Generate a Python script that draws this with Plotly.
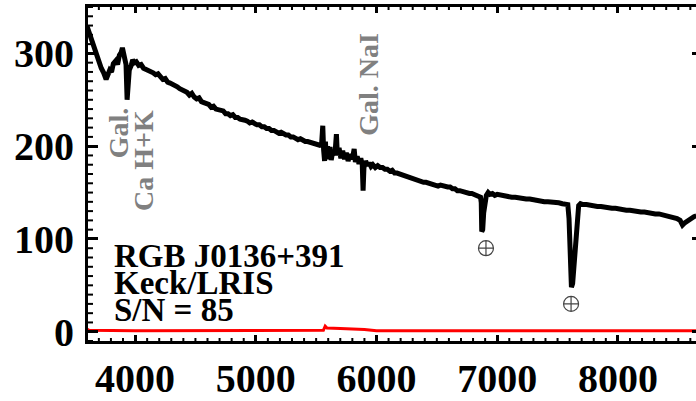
import plotly.graph_objects as go

# Observed-frame spectrum of RGB J0136+391 (Keck/LRIS): (wavelength [A], flux)
spec_points = [
    (3600, 330), (3620, 322), (3640, 316), (3660, 306), (3680, 300), (3700, 291),
    (3720, 284), (3740, 279), (3760, 272), (3775, 277), (3790, 282), (3805, 280),
    (3820, 289), (3840, 292), (3855, 288), (3870, 298), (3885, 301), (3895, 306),
    (3905, 297), (3915, 296), (3925, 288), (3934, 250), (3942, 266), (3952, 282),
    (3968, 287), (3980, 293), (3995, 290), (4010, 291), (4030, 287), (4050, 288),
    (4070, 284), (4090, 283), (4110, 282), (4130, 280), (4150, 279), (4170, 277),
    (4190, 278), (4210, 275), (4230, 272), (4250, 273), (4270, 269), (4290, 268),
    (4310, 267), (4330, 265), (4350, 264), (4370, 262), (4390, 261), (4410, 259),
    (4430, 258), (4450, 255), (4470, 257), (4490, 253), (4510, 251), (4530, 252),
    (4550, 248), (4570, 247), (4590, 246), (4610, 245), (4630, 242), (4650, 243),
    (4670, 240), (4690, 239), (4710, 238), (4730, 238), (4750, 235), (4770, 235),
    (4790, 233), (4810, 234), (4830, 231), (4850, 231), (4870, 229), (4890, 229),
    (4910, 228), (4930, 227), (4950, 225), (4970, 226), (4990, 224), (5010, 223),
    (5030, 223), (5050, 221), (5070, 221), (5090, 219), (5110, 219), (5130, 217),
    (5150, 217), (5170, 216), (5190, 214), (5210, 215), (5230, 213), (5250, 212),
    (5270, 212), (5290, 210), (5310, 210), (5330, 209), (5350, 207), (5370, 208),
    (5390, 206), (5410, 205), (5430, 205), (5450, 204), (5470, 203), (5490, 203),
    (5510, 202), (5530, 201), (5545, 202), (5555, 222), (5562, 196), (5570, 184),
    (5577, 205), (5585, 186), (5595, 200), (5605, 188), (5615, 199), (5625, 185),
    (5640, 196), (5655, 190), (5668, 213), (5676, 190), (5690, 198), (5705, 187),
    (5720, 195), (5735, 186), (5750, 193), (5765, 184), (5780, 191), (5800, 186),
    (5815, 197), (5825, 183), (5840, 189), (5855, 181), (5870, 187), (5882, 180),
    (5889, 152), (5896, 177), (5910, 184), (5925, 179), (5940, 182), (5955, 178),
    (5970, 180), (5990, 177), (6010, 179), (6030, 177), (6050, 177), (6070, 175),
    (6090, 175), (6110, 173), (6130, 174), (6150, 171), (6170, 171), (6190, 170),
    (6210, 169), (6230, 168), (6250, 168), (6270, 166), (6290, 166), (6310, 165),
    (6330, 164), (6350, 163), (6370, 162), (6390, 161), (6410, 161), (6430, 160),
    (6450, 159), (6470, 159), (6490, 158), (6510, 157), (6530, 158), (6550, 157),
    (6570, 156), (6590, 156), (6610, 156), (6630, 154), (6650, 154), (6670, 152),
    (6690, 152), (6710, 151), (6730, 151), (6750, 150), (6770, 149), (6790, 149),
    (6810, 148), (6830, 147), (6850, 147), (6862, 145), (6868, 139), (6872, 108),
    (6880, 110), (6888, 128), (6896, 141), (6910, 147), (6925, 150), (6940, 148),
    (6960, 149), (6980, 147), (7000, 148), (7030, 147), (7060, 146), (7090, 146),
    (7120, 145), (7150, 145), (7180, 144), (7210, 144), (7240, 143), (7270, 143),
    (7300, 142), (7330, 142), (7360, 141), (7390, 140), (7420, 140), (7450, 140),
    (7480, 139), (7510, 139), (7540, 138), (7565, 138), (7585, 137), (7595, 122),
    (7605, 72), (7615, 48), (7625, 52), (7638, 78), (7650, 104), (7662, 126),
    (7675, 136), (7690, 138), (7710, 137), (7740, 137), (7770, 136), (7800, 136),
    (7830, 135), (7860, 135), (7890, 134), (7920, 134), (7950, 133), (7980, 133),
    (8010, 132), (8040, 132), (8070, 131), (8100, 131), (8130, 130), (8160, 130),
    (8190, 129), (8220, 129), (8250, 128), (8280, 128), (8310, 127), (8340, 127),
    (8370, 126), (8400, 126), (8430, 125), (8460, 124), (8490, 122), (8515, 120),
    (8535, 115), (8550, 117), (8570, 119), (8590, 121), (8610, 123), (8630, 124),
    (8650, 125),
]
wave = [w for w, _ in spec_points]
flux = [f for _, f in spec_points]

# 1-sigma error spectrum
err_wave = [3600, 3620, 4000, 5000, 5540, 5560, 5575, 5590, 5700, 5800, 5900,
            6000, 7000, 7620, 8000, 8650]
err_flux = [3, 1.5, 1, 1, 1, 1.5, 6, 4, 3.5, 3, 2.5, 1, 1, 1.5, 1, 1]

# Telluric absorption markers
tell_wave = [6907, 7612]
tell_y = [90, 30]

serif = "Liberation Serif"
x_range = [3610, 8647]
y_range = [-10, 350]
x_minor_step = 100
y_minor_step = 10

fig = go.Figure()
fig.add_trace(go.Scatter(x=wave, y=flux, mode="lines",
                         line=dict(color="black", width=5), showlegend=False))
fig.add_trace(go.Scatter(x=err_wave, y=err_flux, mode="lines",
                         line=dict(color="#ff0000", width=3), showlegend=False))
fig.add_trace(go.Scatter(x=tell_wave, y=tell_y, mode="markers",
                         marker=dict(symbol="circle-cross-open", size=15,
                                     color="#444444", line=dict(width=1.2)),
                         showlegend=False))
# invisible carrier for the right-hand tick axis
fig.add_trace(go.Scatter(x=[x_range[0]], y=[y_range[0]], yaxis="y2",
                         mode="markers", marker=dict(opacity=0),
                         showlegend=False, hoverinfo="skip"))

big = dict(family=serif, size=40, color="black", weight="bold")

fig.update_layout(
    width=696, height=401,
    margin=dict(l=88, r=0, t=7, b=60),
    paper_bgcolor="white", plot_bgcolor="white",
    xaxis=dict(range=x_range, showgrid=False, zeroline=False,
               showline=True, linecolor="black", linewidth=3, mirror="ticks",
               tickmode="linear", tick0=0, dtick=1000,
               ticks="inside", ticklen=6, tickwidth=3, tickcolor="black",
               tickfont=big),
    yaxis=dict(range=y_range, showgrid=False, zeroline=False,
               showline=True, linecolor="black", linewidth=3, mirror=False,
               tickmode="linear", tick0=0, dtick=100,
               ticks="inside", ticklen=10, tickwidth=3, tickcolor="black",
               tickfont=big, ticklabelstandoff=3),
    yaxis2=dict(range=y_range, overlaying="y", side="right", anchor="x",
                showgrid=False, zeroline=False, showline=False,
                showticklabels=False, ticks="inside", ticklen=4, tickwidth=3,
                tickcolor="black", tickmode="linear", tick0=0, dtick=100),
)

# minor tick marks: short pixel-length strokes pinned to the frame edges
tick_line = dict(color="black", width=2)
xv = (int(x_range[0] // x_minor_step) + 1) * x_minor_step
while xv < x_range[1]:
    for anchor, length in [(0, 3), (1, -3)]:
        fig.add_shape(type="line", xref="x", yref="paper", ysizemode="pixel",
                      yanchor=anchor, x0=xv, x1=xv, y0=0, y1=length,
                      line=tick_line, layer="above")
    xv += x_minor_step
yv = y_range[0]
while yv <= y_range[1]:
    fig.add_shape(type="line", xref="paper", yref="y", xsizemode="pixel",
                  xanchor=0, x0=0, x1=5, y0=yv, y1=yv,
                  line=tick_line, layer="above")
    yv += y_minor_step

label_font = dict(family=serif, size=33, color="black", weight="bold")
for text, yl in [("RGB J0136+391", 82), ("Keck/LRIS", 52), ("S/N = 85", 23)]:
    fig.add_annotation(x=3805, y=yl, text=text, showarrow=False,
                       xanchor="left", yanchor="middle", font=label_font)

gray_font = dict(family=serif, size=28, color="#808080", weight="bold")
fig.add_annotation(x=3860, y=214, text="Gal.", textangle=-90, showarrow=False,
                   font=gray_font)
fig.add_annotation(x=4065, y=185, text="Ca H+K", textangle=-90, showarrow=False,
                   font=gray_font)
fig.add_annotation(x=5927, y=267, text="Gal. NaI", textangle=-90, showarrow=False,
                   font=gray_font)

fig.write_html("out.html")
